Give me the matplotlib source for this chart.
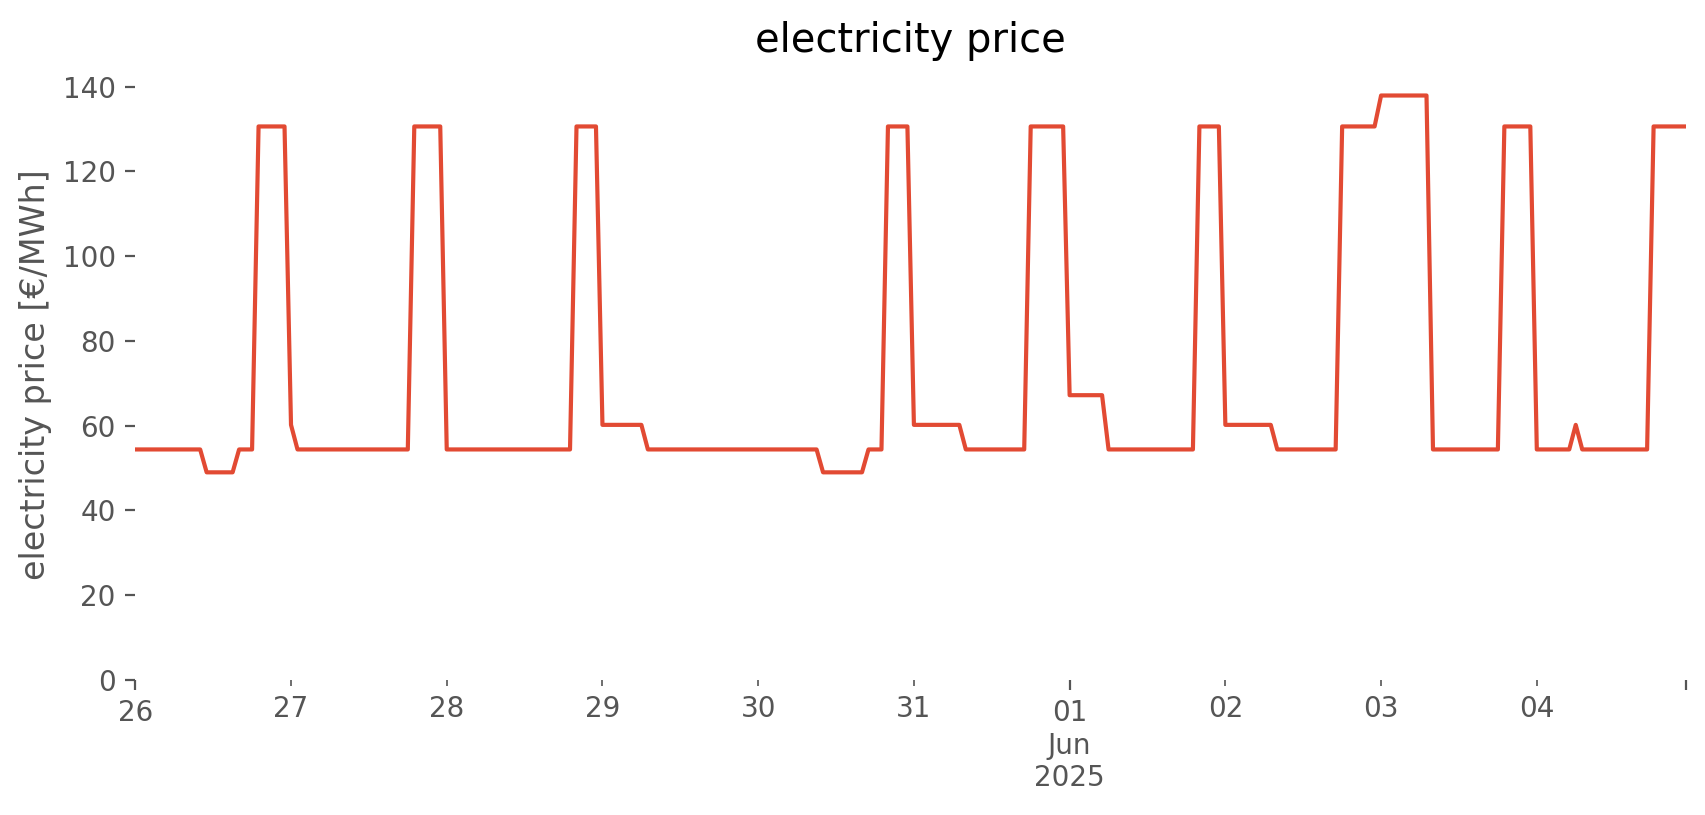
import matplotlib
matplotlib.use('Agg')
import matplotlib.pyplot as plt
import matplotlib.dates as mdates
import pandas as pd

plt.style.use('ggplot')

# hourly electricity price [EUR/MWh], one list per day (00:00 .. 23:00)
may26 = [54.4, 54.4, 54.4, 54.4, 54.4, 54.4, 54.4, 54.4, 54.4, 54.4, 54.4, 49.0,
         49.0, 49.0, 49.0, 49.0, 54.4, 54.4, 54.4, 130.6, 130.6, 130.6, 130.6, 130.6]
may27 = [60.2, 54.4, 54.4, 54.4, 54.4, 54.4, 54.4, 54.4, 54.4, 54.4, 54.4, 54.4,
         54.4, 54.4, 54.4, 54.4, 54.4, 54.4, 54.4, 130.6, 130.6, 130.6, 130.6, 130.6]
may28 = [54.4, 54.4, 54.4, 54.4, 54.4, 54.4, 54.4, 54.4, 54.4, 54.4, 54.4, 54.4,
         54.4, 54.4, 54.4, 54.4, 54.4, 54.4, 54.4, 54.4, 130.6, 130.6, 130.6, 130.6]
may29 = [60.2, 60.2, 60.2, 60.2, 60.2, 60.2, 60.2, 54.4, 54.4, 54.4, 54.4, 54.4,
         54.4, 54.4, 54.4, 54.4, 54.4, 54.4, 54.4, 54.4, 54.4, 54.4, 54.4, 54.4]
may30 = [54.4, 54.4, 54.4, 54.4, 54.4, 54.4, 54.4, 54.4, 54.4, 54.4, 49.0, 49.0,
         49.0, 49.0, 49.0, 49.0, 49.0, 54.4, 54.4, 54.4, 130.6, 130.6, 130.6, 130.6]
may31 = [60.2, 60.2, 60.2, 60.2, 60.2, 60.2, 60.2, 60.2, 54.4, 54.4, 54.4, 54.4,
         54.4, 54.4, 54.4, 54.4, 54.4, 54.4, 130.6, 130.6, 130.6, 130.6, 130.6, 130.6]
jun01 = [67.2, 67.2, 67.2, 67.2, 67.2, 67.2, 54.4, 54.4, 54.4, 54.4, 54.4, 54.4,
         54.4, 54.4, 54.4, 54.4, 54.4, 54.4, 54.4, 54.4, 130.6, 130.6, 130.6, 130.6]
jun02 = [60.2, 60.2, 60.2, 60.2, 60.2, 60.2, 60.2, 60.2, 54.4, 54.4, 54.4, 54.4,
         54.4, 54.4, 54.4, 54.4, 54.4, 54.4, 130.6, 130.6, 130.6, 130.6, 130.6, 130.6]
jun03 = [137.9, 137.9, 137.9, 137.9, 137.9, 137.9, 137.9, 137.9, 54.4, 54.4, 54.4, 54.4,
         54.4, 54.4, 54.4, 54.4, 54.4, 54.4, 54.4, 130.6, 130.6, 130.6, 130.6, 130.6]
jun04 = [54.4, 54.4, 54.4, 54.4, 54.4, 54.4, 60.2, 54.4, 54.4, 54.4, 54.4, 54.4,
         54.4, 54.4, 54.4, 54.4, 54.4, 54.4, 130.6, 130.6, 130.6, 130.6, 130.6, 130.6]

price = may26 + may27 + may28 + may29 + may30 + may31 + jun01 + jun02 + jun03 + jun04
times = pd.date_range('2025-05-26 00:00', periods=len(price), freq='h').to_pydatetime()

days = pd.date_range('2025-05-26', '2025-06-04', freq='D').to_pydatetime()
day_labels = ['26', '27', '28', '29', '30', '31', '01\nJun\n2025', '02', '03', '04']

fig = plt.figure(figsize=(1706 / 200, 815 / 200), dpi=200)
ax = fig.add_axes([0.0793, 0.1656, 0.9090, 0.7505])
ax.set_facecolor('white')
ax.grid(False)
for s in ax.spines.values():
    s.set_visible(False)

ax.plot(times, price, color='#E24A33', linewidth=1.5)

ax.set_xlim(times[0], times[-1])
ax.set_ylim(0, 144.3)
ax.set_yticks(range(0, 141, 20))

# major ticks at start, month start and the end (like pandas does), minor for the other days
major_idx = [0, 6]
major_pos = [mdates.date2num(days[i]) for i in major_idx] + [mdates.date2num(times[-1])]
major_lab = [day_labels[i] for i in major_idx] + ['']
minor_pos = [mdates.date2num(d) for i, d in enumerate(days) if i not in major_idx]
minor_lab = [l for i, l in enumerate(day_labels) if i not in major_idx]
ax.xaxis.set_major_locator(matplotlib.ticker.FixedLocator(major_pos))
ax.xaxis.set_major_formatter(matplotlib.ticker.FixedFormatter(major_lab))
ax.xaxis.set_minor_locator(matplotlib.ticker.FixedLocator(minor_pos))
ax.xaxis.set_minor_formatter(matplotlib.ticker.FixedFormatter(minor_lab))
ax.tick_params(axis='x', which='minor', labelsize=10, colors='#555555')
ax.tick_params(axis='y', which='minor', left=False)

ax.set_title('electricity price')
ax.set_ylabel('electricity price [€/MWh]')

fig.savefig('out.png', dpi=200)
